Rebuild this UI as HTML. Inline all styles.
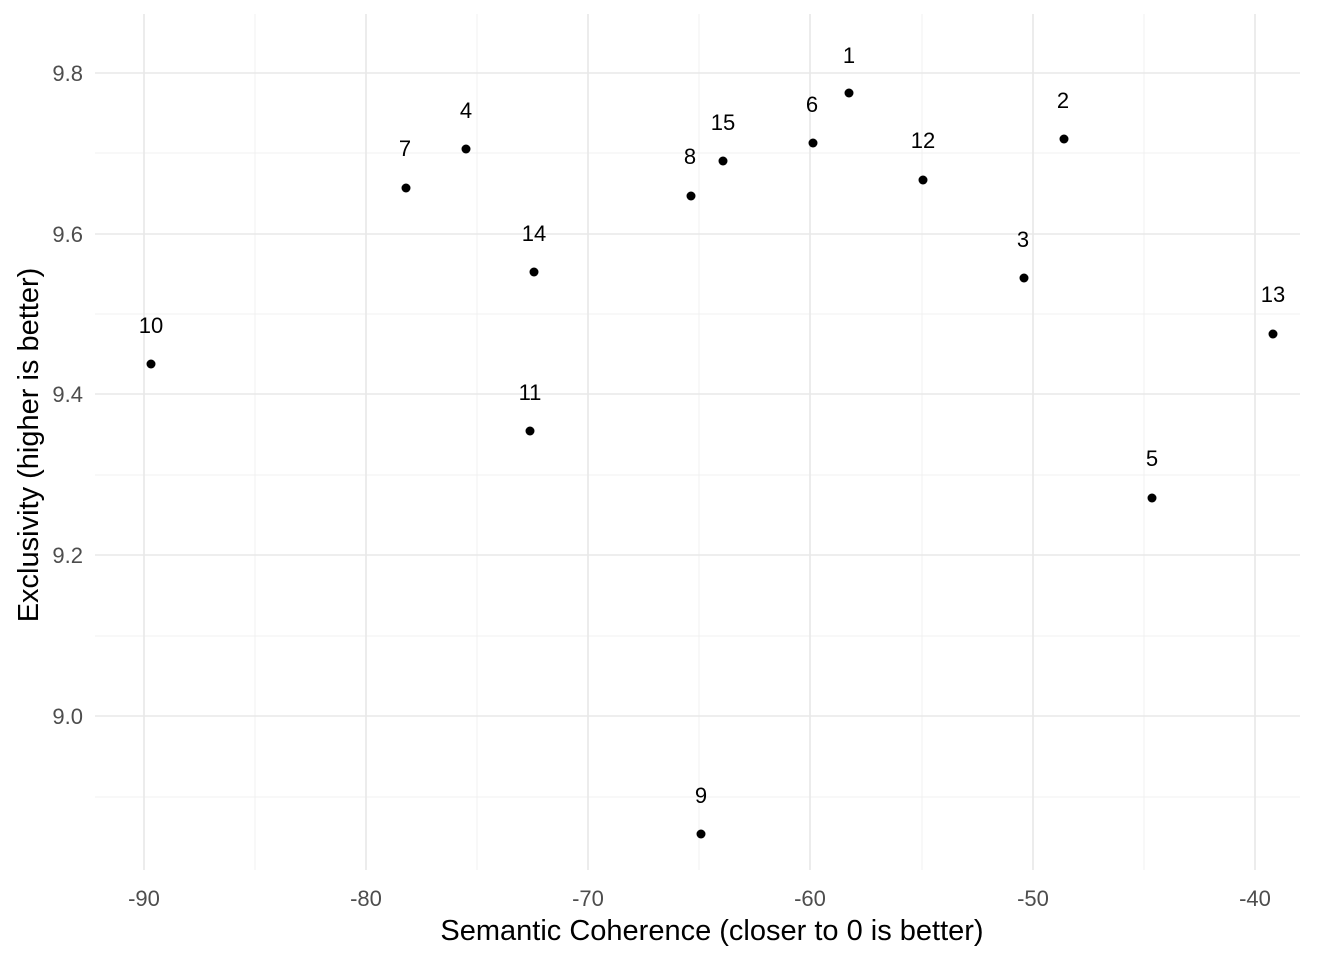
<!DOCTYPE html>
<html><head><meta charset="utf-8"><style>html,body{margin:0;padding:0;background:#fff}</style></head>
<body>
<svg width="1344" height="960" viewBox="0 0 1344 960" xmlns="http://www.w3.org/2000/svg" font-family="Liberation Sans, Arial, sans-serif">
<rect width="1344" height="960" fill="#fff"/>
<g stroke="#f0f0f0" stroke-width="1">
<line x1="255" y1="14" x2="255" y2="870"/><line x1="477" y1="14" x2="477" y2="870"/><line x1="699" y1="14" x2="699" y2="870"/><line x1="922" y1="14" x2="922" y2="870"/><line x1="1144" y1="14" x2="1144" y2="870"/>
<line x1="95" y1="153" x2="1300" y2="153"/><line x1="95" y1="314" x2="1300" y2="314"/><line x1="95" y1="475" x2="1300" y2="475"/><line x1="95" y1="636" x2="1300" y2="636"/><line x1="95" y1="797" x2="1300" y2="797"/>
</g>
<g stroke="#e8e8e8" stroke-width="1.6">
<line x1="144" y1="14" x2="144" y2="870"/><line x1="366" y1="14" x2="366" y2="870"/><line x1="588" y1="14" x2="588" y2="870"/><line x1="810" y1="14" x2="810" y2="870"/><line x1="1033" y1="14" x2="1033" y2="870"/><line x1="1255" y1="14" x2="1255" y2="870"/>
<line x1="95" y1="73" x2="1300" y2="73"/><line x1="95" y1="234" x2="1300" y2="234"/><line x1="95" y1="394" x2="1300" y2="394"/><line x1="95" y1="555" x2="1300" y2="555"/><line x1="95" y1="716" x2="1300" y2="716"/>
</g>
<g fill="#4d4d4d" font-size="22" text-anchor="middle">
<text x="144" y="906">-90</text><text x="366" y="906">-80</text><text x="588" y="906">-70</text><text x="810" y="906">-60</text><text x="1033" y="906">-50</text><text x="1255" y="906">-40</text>
</g>
<g fill="#4d4d4d" font-size="22" text-anchor="end">
<text x="83" y="81">9.8</text><text x="83" y="242">9.6</text><text x="83" y="402">9.4</text><text x="83" y="563">9.2</text><text x="83" y="724">9.0</text>
</g>
<text x="712" y="940" font-size="29" text-anchor="middle" fill="#000">Semantic Coherence (closer to 0 is better)</text>
<text transform="translate(38,445) rotate(-90)" font-size="29" text-anchor="middle" fill="#000">Exclusivity (higher is better)</text>
<g fill="#000">
<circle cx="849" cy="93" r="4.5"/><circle cx="1064" cy="139" r="4.5"/><circle cx="1024" cy="278" r="4.5"/><circle cx="466" cy="149" r="4.5"/><circle cx="1152" cy="498" r="4.5"/><circle cx="813" cy="143" r="4.5"/><circle cx="406" cy="188" r="4.5"/><circle cx="691" cy="196" r="4.5"/><circle cx="701" cy="834" r="4.5"/><circle cx="151" cy="364" r="4.5"/><circle cx="530" cy="431" r="4.5"/><circle cx="923" cy="180" r="4.5"/><circle cx="1273" cy="334" r="4.5"/><circle cx="534" cy="272" r="4.5"/><circle cx="723" cy="161" r="4.5"/>
</g>
<g fill="#000" font-size="22" text-anchor="middle">
<text x="849" y="63">1</text><text x="1063" y="108">2</text><text x="1023" y="247">3</text><text x="466" y="118">4</text><text x="1152" y="466">5</text><text x="812" y="112">6</text><text x="405" y="156">7</text><text x="690" y="164">8</text><text x="701" y="803">9</text><text x="151" y="333">10</text><text x="530" y="400">11</text><text x="923" y="148">12</text><text x="1273" y="302">13</text><text x="534" y="241">14</text><text x="723" y="130">15</text>
</g>
</svg>
</body></html>
